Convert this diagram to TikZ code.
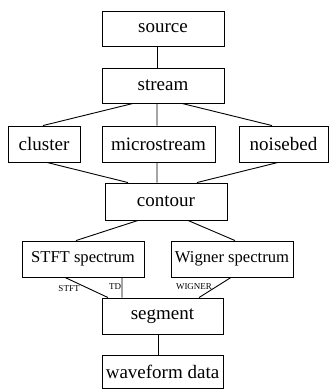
\documentclass[tikz,border=0pt]{standalone}
\usepackage{fontspec}
\setmainfont{Liberation Serif}
\begin{document}
\begin{tikzpicture}[x=1bp,y=-1bp,
  box/.style={draw,line width=0.9bp,rectangle,inner sep=0pt,minimum height=35bp,
    font=\fontsize{19bp}{22bp}\selectfont},
  smallbox/.style={box,font=\fontsize{16.6bp}{20bp}\selectfont},
  link/.style={line width=0.9bp},
  tag/.style={font=\fontsize{9bp}{10bp}\selectfont,inner sep=0pt}]
\useasboundingbox (0,0) rectangle (329,389);
% boxes
\node[box,minimum width=122bp] (source) at (163,28.5) {source};
\node[box,minimum width=122bp] (stream) at (163,85.5) {stream};
\node[box,minimum width=72bp,minimum height=36bp] (cluster) at (44,144) {cluster};
\node[box,minimum width=113bp,minimum height=36bp] (micro) at (158.5,144) {microstream};
\node[box,minimum width=89bp,minimum height=36bp] (noise) at (283.5,144) {noisebed};
\node[box,minimum width=122bp,minimum height=37bp] (contour) at (166,201.5) {contour};
\node[smallbox,minimum width=122bp,minimum height=36bp] (stft) at (83,259) {STFT spectrum};
\node[smallbox,minimum width=122bp,minimum height=36bp] (wigner) at (232,259) {Wigner spectrum};
\node[box,minimum width=121bp,minimum height=36bp] (segment) at (162.5,316) {segment};
\node[box,minimum width=121bp,minimum height=33bp] (wave) at (162.5,372) {waveform data};
% connectors
\draw[link] ([xshift=-6bp]source.south) -- ([xshift=-6bp]stream.north);
\draw[link] ([xshift=-30bp]stream.south) -- ([xshift=-1bp]cluster.north);
\draw[link] ([xshift=-6bp]stream.south) -- ([xshift=-1.5bp]micro.north);
\draw[link] ([xshift=19bp]stream.south) -- ([xshift=-11.5bp]noise.north);
\draw[link] ([xshift=3bp]cluster.south) -- ([xshift=-38bp]contour.north);
\draw[link] ([xshift=-1.5bp]micro.south) -- ([xshift=-9bp]contour.north);
\draw[link] ([xshift=-5.5bp]noise.south) -- ([xshift=31bp]contour.north);
\draw[link] ([xshift=-28bp]contour.south) -- ([xshift=-7bp]stft.north);
\draw[link] ([xshift=22bp]contour.south) -- ([xshift=3bp]wigner.north);
\draw[link] ([xshift=-18bp]stft.south) -- ([xshift=-54.5bp]segment.north);
\draw[link] ([xshift=39bp]stft.south) -- ([xshift=-40.5bp]segment.north);
\draw[link] ([xshift=-1bp]wigner.south) -- ([xshift=36.5bp]segment.north);
\draw[link] ([xshift=-4.5bp]segment.south) -- ([xshift=-4.5bp]wave.north);
% edge tags
\node[tag] (tstft) at (69,289) {STFT};
\node[tag] (ttd) at (115,287) {TD};
\node[tag] (twig) at (194,287) {WIGNER};
\end{tikzpicture}
\end{document}
